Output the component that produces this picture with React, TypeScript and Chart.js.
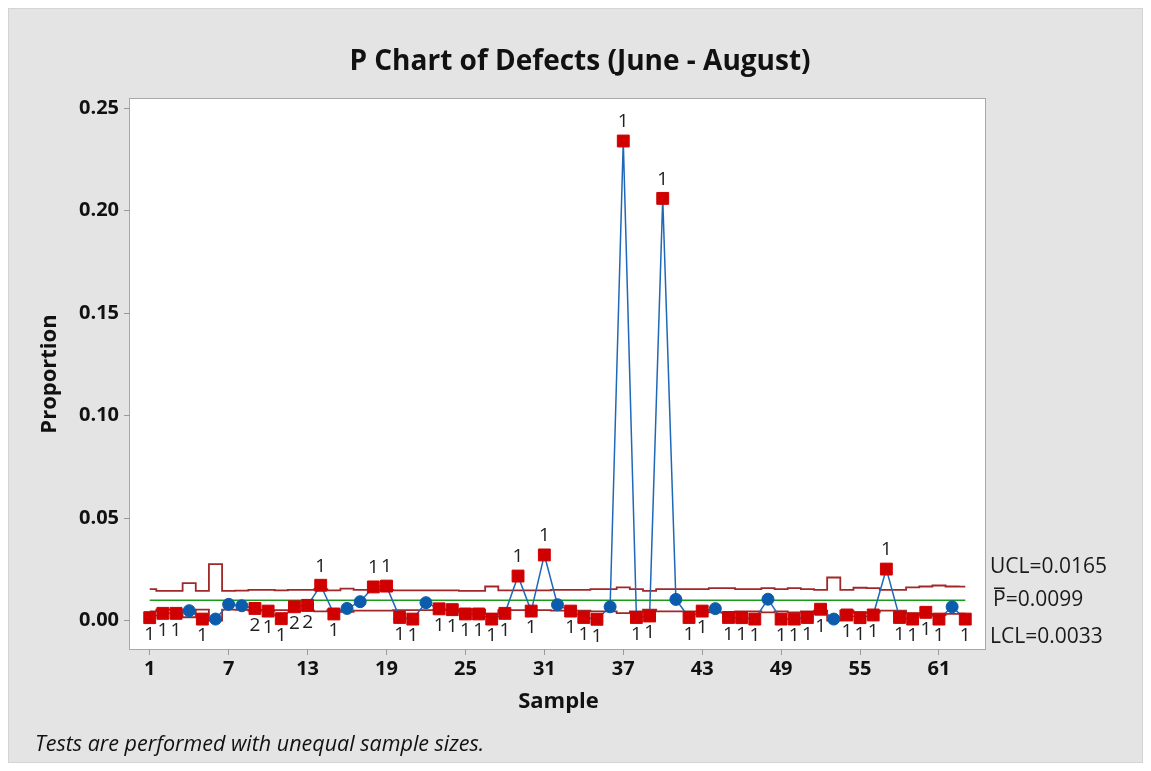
import React, { useEffect, useRef } from "react";
import { Chart, registerables } from "chart.js";

Chart.register(...registerables);

// ---------- DATA ----------
const samples = [
  1, 2, 3, 4, 5, 6, 7, 8, 9, 10, 11, 12, 13, 14, 15, 16, 17, 18, 19, 20, 21,
  22, 23, 24, 25, 26, 27, 28, 29, 30, 31, 32, 33, 34, 35, 36, 37, 38, 39, 40,
  41, 42, 43, 44, 45, 46, 47, 48, 49, 50, 51, 52, 53, 54, 55, 56, 57, 58, 59,
  60, 61, 62, 63,
];

const proportions = [
  0.0014, 0.0035, 0.0035, 0.0048, 0.0007, 0.0007, 0.0079, 0.0072, 0.0059, 0.0046,
  0.0009, 0.0067, 0.0074, 0.0172, 0.0032, 0.0059, 0.0092, 0.0164, 0.0168, 0.0015,
  0.0007, 0.0087, 0.0057, 0.0053, 0.0032, 0.0032, 0.0007, 0.0035, 0.0217, 0.0046,
  0.032, 0.0077, 0.0046, 0.0015, 0.0006, 0.0067, 0.234, 0.0015, 0.0022, 0.206,
  0.0103, 0.0015, 0.0046, 0.0058, 0.0015, 0.0014, 0.0007, 0.0104, 0.0007, 0.0007,
  0.0015, 0.0055, 0.0007, 0.0027, 0.0014, 0.0027, 0.0251, 0.0015, 0.0007, 0.004,
  0.0007, 0.0067, 0.0007,
];

const upperLimits = [
  0.0153, 0.0145, 0.0145, 0.0182, 0.0145, 0.0275, 0.0145, 0.0146, 0.015, 0.015,
  0.0147, 0.015, 0.015, 0.0153, 0.0147, 0.0156, 0.015, 0.015, 0.015, 0.0147,
  0.0147, 0.0147, 0.0147, 0.0147, 0.0145, 0.0145, 0.0166, 0.0147, 0.0147, 0.0147,
  0.0147, 0.015, 0.015, 0.015, 0.0153, 0.0153, 0.0162, 0.0153, 0.0145, 0.0153,
  0.0153, 0.0153, 0.0153, 0.0158, 0.0158, 0.0153, 0.0153, 0.0158, 0.0153, 0.0158,
  0.0153, 0.015, 0.021, 0.015, 0.016, 0.0158, 0.015, 0.015, 0.0162, 0.0166,
  0.0171, 0.0166, 0.0165,
];

const lowerLimits = [
  0.0045, 0.0053, 0.0053, 0.0016, 0.0053, 0.0, 0.0053, 0.0052, 0.0048, 0.0048,
  0.0051, 0.0048, 0.0048, 0.0045, 0.0051, 0.0042, 0.0048, 0.0048, 0.0048, 0.0051,
  0.0051, 0.0051, 0.0051, 0.0051, 0.0053, 0.0053, 0.0032, 0.0051, 0.0051, 0.0051,
  0.0051, 0.0048, 0.0048, 0.0048, 0.0045, 0.0045, 0.0036, 0.0045, 0.0053, 0.0045,
  0.0045, 0.0045, 0.0045, 0.004, 0.004, 0.0045, 0.0045, 0.004, 0.0045, 0.004,
  0.0045, 0.0048, 0.0, 0.0048, 0.0038, 0.004, 0.0048, 0.0048, 0.0036, 0.0032,
  0.0027, 0.0032, 0.0033,
];

const centerValue = 0.0099;

// test failure labels ("" = no failure)
const testFlags = [
  "1", "1", "1", "", "1", "", "", "", "2", "1", "1", "2", "2", "1", "1", "", "",
  "1", "1", "1", "1", "", "1", "1", "1", "1", "1", "1", "1", "1", "1", "", "1",
  "1", "1", "", "1", "1", "1", "1", "", "1", "1", "", "1", "1", "1", "", "1", "1",
  "1", "1", "", "1", "1", "1", "1", "1", "1", "1", "1", "", "1",
];

const xTickValues = [1, 7, 13, 19, 25, 31, 37, 43, 49, 55, 61];
const yTickValues = [0, 0.05, 0.1, 0.15, 0.2, 0.25];

const titleText = "P Chart of Defects (June - August)";
const xTitleText = "Sample";
const yTitleText = "Proportion";
const footnoteText = "Tests are performed with unequal sample sizes.";
const uclText = "UCL=0.0165";
const clSymbol = "P";
const clText = "=0.0099";
const lclText = "LCL=0.0033";

// ---------- STYLE ----------
const W = 1135;
const H = 755;
const FONT = '"Open Sans", "Noto Sans", sans-serif';
const RED = "#d00000";
const BLUE_PT = "#0b5cad";
const BLUE_LINE = "#1f68b8";
const LIMIT = "#a02828";
const GREEN = "#1a9a1a";
const TEXT = "#111111";

export default function App() {
  const ref = useRef<HTMLCanvasElement | null>(null);

  useEffect(() => {
    const canvas = ref.current;
    if (!canvas) return;

    const decor = {
      id: "decor",
      beforeDraw(chart: any) {
        const { ctx, chartArea: a } = chart;
        ctx.save();
        ctx.fillStyle = "#e4e4e4";
        ctx.fillRect(0, 0, W, H);
        ctx.strokeStyle = "#d4d4d4";
        ctx.lineWidth = 1;
        ctx.strokeRect(0.5, 0.5, W - 1, H - 1);
        ctx.fillStyle = "#ffffff";
        ctx.fillRect(a.left, a.top, a.right - a.left, a.bottom - a.top);
        ctx.strokeStyle = "#a8a8a8";
        ctx.strokeRect(a.left - 0.5, a.top - 0.5, a.right - a.left + 1, a.bottom - a.top + 1);
        ctx.restore();
      },
      afterDatasetsDraw(chart: any) {
        const { ctx } = chart;
        const xs = chart.scales.x;
        const ys = chart.scales.y;
        ctx.save();
        ctx.font = `19px ${FONT}`;
        ctx.fillStyle = "#222222";
        ctx.textAlign = "center";
        ctx.textBaseline = "middle";
        samples.forEach((s, i) => {
          const f = testFlags[i];
          if (!f) return;
          const px = xs.getPixelForValue(s);
          const py = ys.getPixelForValue(proportions[i]);
          const above = proportions[i] > upperLimits[i];
          ctx.fillText(f, px, above ? py - 19 : py + 17);
        });
        ctx.restore();
      },
      afterDraw(chart: any) {
        const { ctx, chartArea: a } = chart;
        const ys = chart.scales.y;
        ctx.save();
        ctx.fillStyle = TEXT;
        ctx.textBaseline = "middle";

        // title
        ctx.textAlign = "center";
        ctx.font = `bold 28px ${FONT}`;
        ctx.fillText(titleText, 572, 54);

        // axis titles
        ctx.font = `bold 22px ${FONT}`;
        ctx.fillText(xTitleText, (a.left + a.right) / 2 + 1, 694);
        ctx.save();
        ctx.translate(42, (a.top + a.bottom) / 2);
        ctx.rotate(-Math.PI / 2);
        ctx.fillText(yTitleText, 0, 0);
        ctx.restore();

        // footnote
        ctx.textAlign = "left";
        ctx.font = `italic 21.5px ${FONT}`;
        ctx.fillText(footnoteText, 27, 737);

        // limit labels
        const last = samples.length - 1;
        ctx.font = `21px ${FONT}`;
        ctx.fillStyle = "#1a1a1a";
        const uy = ys.getPixelForValue(upperLimits[last]) - 20;
        ctx.fillText(uclText, a.right + 5, uy);
        const cy = ys.getPixelForValue(centerValue);
        const px0 = a.right + 8;
        ctx.fillText(clSymbol, px0, cy);
        const pw = ctx.measureText(clSymbol).width;
        ctx.fillText(clText, px0 + pw, cy);
        ctx.strokeStyle = "#1a1a1a";
        ctx.lineWidth = 1.5;
        ctx.beginPath();
        ctx.moveTo(px0 + 1, cy - 12);
        ctx.lineTo(px0 + pw - 1, cy - 12);
        ctx.stroke();
        const ly = ys.getPixelForValue(lowerLimits[last]) + 23;
        ctx.fillText(lclText, a.right + 5, ly);
        ctx.restore();
      },
    };

    const pts = samples.map((s, i) => ({ x: s, y: proportions[i] }));
    const uPts = samples.map((s, i) => ({ x: s, y: upperLimits[i] }));
    const lPts = samples.map((s, i) => ({ x: s, y: lowerLimits[i] }));
    const cPts = [
      { x: samples[0], y: centerValue },
      { x: samples[samples.length - 1], y: centerValue },
    ];

    const chart = new Chart(canvas, {
      type: "line",
      data: {
        datasets: [
          {
            label: "Proportion",
            data: pts,
            order: 0,
            borderColor: BLUE_LINE,
            borderWidth: 1.5,
            pointStyle: testFlags.map((f) => (f ? "rect" : "circle")) as any,
            pointRadius: testFlags.map((f) => (f ? 8.4 : 6)),
            pointBackgroundColor: testFlags.map((f) => (f ? RED : BLUE_PT)),
            pointBorderColor: testFlags.map((f) => (f ? RED : BLUE_PT)),
            pointBorderWidth: 1,
            tension: 0,
          },
          {
            label: "UCL",
            data: uPts,
            order: 2,
            borderColor: LIMIT,
            borderWidth: 1.8,
            stepped: "middle",
            pointRadius: 0,
          },
          {
            label: "CL",
            data: cPts,
            order: 3,
            borderColor: GREEN,
            borderWidth: 1.6,
            pointRadius: 0,
          },
          {
            label: "LCL",
            data: lPts,
            order: 2,
            borderColor: LIMIT,
            borderWidth: 1.8,
            stepped: "middle",
            pointRadius: 0,
          },
        ],
      },
      options: {
        responsive: false,
        animation: false,
        devicePixelRatio: 1,
        events: [],
        layout: { padding: { top: 91, right: 158, left: 0, bottom: 0 } },
        plugins: {
          legend: { display: false },
          tooltip: { enabled: false },
          title: { display: false },
        },
        scales: {
          x: {
            type: "linear",
            min: -0.5,
            max: 64.5,
            afterFit: (s: any) => {
              s.height = 114;
            },
            afterBuildTicks: (axis: any) => {
              axis.ticks = xTickValues.map((v) => ({ value: v }));
            },
            ticks: {
              autoSkip: false,
              maxRotation: 0,
              padding: 2,
              color: TEXT,
              font: { family: FONT, size: 20, weight: "bold" },
              callback: (v: any) => String(v),
            },
            grid: {
              display: true,
              drawOnChartArea: false,
              drawTicks: true,
              tickLength: 6,
              color: "#9a9a9a",
            },
            border: { display: false },
          },
          y: {
            type: "linear",
            min: -0.0139,
            max: 0.2545,
            afterFit: (s: any) => {
              s.width = 122;
            },
            afterBuildTicks: (axis: any) => {
              axis.ticks = yTickValues.map((v) => ({ value: v }));
            },
            ticks: {
              autoSkip: false,
              padding: 5,
              color: TEXT,
              font: { family: FONT, size: 20, weight: "bold" },
              callback: (v: any) => Number(v).toFixed(2),
            },
            grid: {
              display: true,
              drawOnChartArea: false,
              drawTicks: true,
              tickLength: 6,
              color: "#9a9a9a",
            },
            border: { display: false },
          },
        },
      },
      plugins: [decor],
    } as any);

    return () => {
      chart.destroy();
    };
  }, []);

  return (
    <div style={{ width: W, height: H }}>
      <canvas ref={ref} width={W} height={H} style={{ display: "block", width: W, height: H }} />
    </div>
  );
}
